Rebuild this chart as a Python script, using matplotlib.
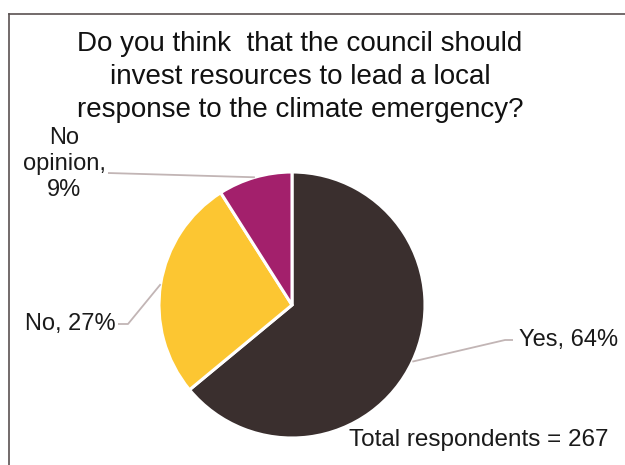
import numpy as np
import matplotlib

matplotlib.use("Agg")
import matplotlib.pyplot as plt

plt.rcParams["font.family"] = ["Liberation Sans", "DejaVu Sans"]

labels = ["Yes", "No", "No opinion"]
shares = [64, 27, 9]
colors = ["#3a2f2e", "#fcc632", "#a3206c"]
title = ("Do you think  that the council should\n"
         "invest resources to lead a local\n"
         "response to the climate emergency?")
note = "Total respondents = 267"

W, H = 625, 465
fig = plt.figure(figsize=(W / 100, H / 100), dpi=100)
ax = fig.add_axes([0, 0, 1, 1])

cx, cy, r = 292, 160, 133
wedges, _ = ax.pie(shares, colors=colors, startangle=90, counterclock=False,
                   center=(cx, cy), radius=r, frame=True,
                   wedgeprops=dict(edgecolor="white", linewidth=2.2))
ax.set_xlim(0, W)
ax.set_ylim(0, H)
ax.set_aspect("equal")
ax.axis("off")

# leader line bends and label anchors (pixel layout)
bends = [[(505, 125), (513, 125)], [(128, 141), (118, 141)], [(108, 292)]]
label_pos = [(519, 125, "left"), (116, 141, "right"), (64, 301, "center")]
texts = ["Yes, 64%", "No, 27%", "No\nopinion,\n9%"]

for w, bend, (tx, ty, ha), t in zip(wedges, bends, label_pos, texts):
    mid = np.deg2rad((w.theta1 + w.theta2) / 2)
    pts = [(cx + r * np.cos(mid), cy + r * np.sin(mid))] + bend
    xs, ys = zip(*pts)
    ax.plot(xs, ys, color="#c2b5b5", lw=1.3, solid_capstyle="butt")
    ax.text(tx, ty, t, ha=ha, va="center", fontsize=17, color="#1a1a1a",
            linespacing=1.25)

ax.text(300, 388, title, ha="center", va="center", fontsize=20,
        color="#111111", linespacing=1.33)
ax.text(349, 25, note, ha="left", va="center", fontsize=17.5, color="#1a1a1a")

# frame edges visible in the crop
ax.plot([9, W], [H - 14, H - 14], color="#5a5252", lw=1.2)
ax.plot([9, 9], [0, H - 14], color="#5a5252", lw=1.2)

fig.savefig("out.png", dpi=100)
